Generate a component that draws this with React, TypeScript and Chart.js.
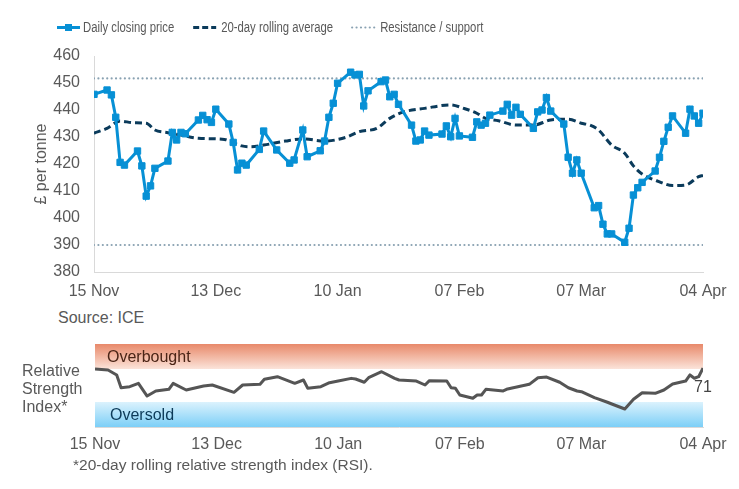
import React, { useEffect, useRef } from 'react';
import { Chart, registerables } from 'chart.js';

Chart.register(...registerables);

// ---------- DATA ----------
const xTickLabels = ['15 Nov', '13 Dec', '10 Jan', '07 Feb', '07 Mar', '04 Apr'];
const tickStepDays = 28; // days between tick labels

// day offsets from 15 Nov
const priceDays = [
  0, 3, 4, 5, 6, 7, 10, 11, 12, 13, 14, 17, 18, 19, 20, 21, 24, 25, 26, 27, 28,
  31, 32, 33, 34, 35, 38, 39, 42, 45, 46, 48, 49, 52, 53, 54, 55, 56, 59, 60, 61,
  62, 63, 66, 67, 68, 69, 70, 73, 74, 75, 76, 77, 80, 81, 82, 83, 84, 87, 88, 89,
  90, 91, 94, 95, 96, 97, 98, 101, 102, 103, 104, 105, 108, 109, 110, 111, 112,
  115, 116, 117, 118, 119, 122, 123, 124, 125, 126, 129, 130, 131, 132, 133, 136,
  137, 138, 139, 140,
];
const priceValues = [
  445.8, 447.4, 445.6, 437.3, 420.6, 419.6, 424.8, 419.3, 408.1, 411.9, 418.4,
  421.1, 431.7, 428.9, 431.7, 431.2, 436.3, 438.0, 436.4, 435.4, 440.3, 434.8,
  428.0, 417.8, 420.3, 419.6, 425.4, 432.2, 425.2, 420.3, 421.5, 432.6, 422.7,
  424.9, 428.5, 437.3, 442.5, 449.9, 454.0, 453.0, 453.2, 441.5, 447.1, 450.5,
  451.1, 444.9, 445.8, 442.1, 434.4, 428.5, 428.9, 432.2, 430.7, 431.1, 434.1,
  430.1, 436.9, 430.4, 429.9, 435.6, 434.4, 435.1, 438.1, 439.6, 442.1, 438.1,
  441.0, 438.4, 433.2, 439.3, 440.0, 444.6, 439.6, 434.8, 422.5, 416.6, 421.5,
  416.6, 403.8, 404.6, 397.7, 394.1, 394.1, 391.0, 396.2, 408.5, 411.2, 413.2,
  417.4, 422.5, 428.4, 433.6, 437.8, 431.4, 440.3, 437.8, 435.1, 438.8,
];

const maDays = [
  0, 3, 6, 9, 12, 14, 17, 20, 24, 30, 32, 34, 36, 39, 44, 48, 53, 58, 61, 65, 68,
  71, 76, 82, 85, 88, 90, 93, 97, 101, 105, 109, 112, 114, 116, 119, 122, 124,
  126, 130, 133, 136, 139, 140,
];
const maValues = [
  431.4, 433.2, 435.9, 435.3, 435.1, 432.6, 431.6, 430.7, 429.5, 429.1, 427.9,
  426.7, 426.4, 427.0, 428.5, 429.3, 428.5, 429.9, 432.0, 433.2, 436.9, 439.2,
  440.6, 441.9, 440.6, 438.8, 436.9, 436.0, 434.4, 434.4, 436.3, 436.6, 435.1,
  434.4, 432.6, 427.0, 424.0, 419.3, 416.3, 413.4, 412.0, 412.2, 415.3, 415.8,
];

const resistanceLevel = 451.7;
const supportLevel = 390;

const rsiDays = [
  0, 3, 5, 6, 8, 10, 12, 14, 17, 18, 21, 25, 27, 32, 34, 38, 39, 42, 46, 48, 49,
  52, 54, 56, 59, 60, 62, 63, 66, 69, 70, 74, 76, 77, 81, 82, 83, 84, 87, 88, 89,
  90, 94, 95, 100, 102, 104, 107, 109, 111, 112, 115, 118, 119, 122, 124, 126,
  129, 131, 133, 136, 137, 138, 139, 140,
];
const rsiValues = [
  69.9, 68.7, 62.7, 47.4, 48.6, 52.6, 37.3, 43.4, 45.4, 52.6, 44.6, 49.4, 50.6,
  41.8, 50.6, 51.4, 57.5, 60.6, 52.6, 56.6, 46.6, 48.6, 53.4, 55.4, 58.6, 57.8,
  53.9, 59.4, 66.6, 58.6, 56.6, 55.4, 50.6, 55.8, 55.4, 47.3, 46.6, 38.6, 34.6,
  38.6, 38.6, 45.4, 43.4, 45.8, 51.4, 59.4, 60.2, 53.9, 47.3, 43.4, 42.5, 35.3,
  29.8, 27.7, 21.7, 33.4, 41.3, 40.6, 44.6, 51.8, 55.4, 62.7, 58.7, 60.6, 71,
];
const overboughtRange = [70, 100];
const oversoldRange = [0, 30];

const legendLabels = ['Daily closing price', '20-day rolling average', 'Resistance / support'];

// ---------- STYLE ----------
const FONT = '"Liberation Sans", Arial, sans-serif';
const TEXT = '#595959';
const AXIS = '#d9d9d9';
const BLUE = '#0790d5';
const NAVY = '#0b3b5b';
const DOT = '#8aa2b2';
const RSI_LINE = '#555555';

const lastDay = (xTickLabels.length - 1) * tickStepDays;
const toPts = (xs: number[], ys: number[]) => xs.map((x, i) => ({ x, y: ys[i] }));
const tickCb = (v: any) => {
  const i = Math.round(Number(v) / tickStepDays);
  return Math.abs(Number(v) - i * tickStepDays) < 1e-6 ? xTickLabels[i] ?? '' : '';
};

const legendPlugin = {
  id: 'customLegend',
  afterDraw(chart: any) {
    const ctx = chart.ctx as CanvasRenderingContext2D;
    const y = 27.5;
    let x = 57;
    ctx.save();
    ctx.font = `15.5px ${FONT}`;
    ctx.textBaseline = 'middle';
    ctx.textAlign = 'left';
    legendLabels.forEach((label, i) => {
      const len = 23;
      ctx.save();
      ctx.beginPath();
      if (i === 0) {
        ctx.strokeStyle = BLUE;
        ctx.lineWidth = 3;
        ctx.setLineDash([]);
      } else if (i === 1) {
        ctx.strokeStyle = NAVY;
        ctx.lineWidth = 3;
        ctx.setLineDash([6, 3]);
      } else {
        ctx.strokeStyle = DOT;
        ctx.lineWidth = 2.2;
        ctx.lineCap = 'round';
        ctx.setLineDash([0.01, 4.4]);
      }
      ctx.moveTo(x, y);
      ctx.lineTo(x + len, y);
      ctx.stroke();
      if (i === 0) {
        ctx.fillStyle = BLUE;
        ctx.fillRect(x + len / 2 - 3.5, y - 3.5, 7, 7);
      }
      ctx.restore();
      x += len + (i === 0 ? 3 : 5);
      const w = ctx.measureText(label).width * 0.73;
      ctx.fillStyle = TEXT;
      ctx.fillText(label, x, y, w);
      x += w + 19;
    });
    ctx.restore();
  },
};

const rsiLabelPlugin = {
  id: 'rsiLabels',
  afterDatasetsDraw(chart: any) {
    const ctx = chart.ctx as CanvasRenderingContext2D;
    const { chartArea, scales } = chart;
    const ys = scales.y;
    ctx.save();
    ctx.font = `16px ${FONT}`;
    ctx.textBaseline = 'middle';
    ctx.textAlign = 'left';
    ctx.fillStyle = '#4a2416';
    ctx.fillText('Overbought', chartArea.left + 12, ys.getPixelForValue((overboughtRange[0] + overboughtRange[1]) / 2) + 1);
    ctx.fillStyle = '#0c3a58';
    ctx.fillText('Oversold', chartArea.left + 15, ys.getPixelForValue((oversoldRange[0] + oversoldRange[1]) / 2) + 1);
    const meta = chart.getDatasetMeta(0);
    const last = meta.data[meta.data.length - 1];
    ctx.fillStyle = '#444444';
    ctx.textAlign = 'center';
    ctx.fillText(String(Math.round(rsiValues[rsiValues.length - 1])), last.x, last.y + 20);
    ctx.restore();
  },
};

function bandGradient(chart: any, top: number, bottom: number, cTop: string, cBottom: string) {
  const { chartArea, scales } = chart;
  if (!chartArea) return cTop;
  const y0 = scales.y.getPixelForValue(top);
  const y1 = scales.y.getPixelForValue(bottom);
  const g = chart.ctx.createLinearGradient(0, y0, 0, y1);
  g.addColorStop(0, cTop);
  g.addColorStop(1, cBottom);
  return g;
}

export default function App() {
  const mainRef = useRef<HTMLCanvasElement>(null);
  const rsiRef = useRef<HTMLCanvasElement>(null);

  useEffect(() => {
    const tickFont = { size: 16, family: FONT };
    const main = new Chart(mainRef.current!, {
      type: 'line',
      data: {
        datasets: [
          {
            label: legendLabels[0],
            data: toPts(priceDays, priceValues),
            borderColor: BLUE,
            backgroundColor: BLUE,
            borderWidth: 3,
            pointStyle: 'rect',
            pointRadius: 4.5,
            pointBorderWidth: 1,
            pointBackgroundColor: BLUE,
            pointBorderColor: BLUE,
            tension: 0,
          },
          {
            label: legendLabels[1],
            data: toPts(maDays, maValues),
            borderColor: NAVY,
            borderWidth: 3,
            borderDash: [7, 4],
            pointRadius: 0,
            cubicInterpolationMode: 'monotone',
          },
          {
            label: legendLabels[2],
            data: [{ x: 0, y: resistanceLevel }, { x: lastDay, y: resistanceLevel }],
            borderColor: DOT,
            borderWidth: 2.2,
            borderCapStyle: 'round',
            borderDash: [0.01, 4.4],
            pointRadius: 0,
          },
          {
            label: legendLabels[2],
            data: [{ x: 0, y: supportLevel }, { x: lastDay, y: supportLevel }],
            borderColor: DOT,
            borderWidth: 2.2,
            borderCapStyle: 'round',
            borderDash: [0.01, 4.4],
            pointRadius: 0,
          },
        ],
      } as any,
      options: {
        animation: false,
        responsive: false,
        maintainAspectRatio: false,
        layout: { padding: { top: 56, right: 36, left: 0, bottom: 0 } },
        plugins: { legend: { display: false }, tooltip: { enabled: false } },
        scales: {
          x: {
            type: 'linear',
            min: 0,
            max: lastDay,
            grid: { display: false, drawTicks: false },
            border: { color: AXIS, width: 1 },
            ticks: { stepSize: tickStepDays, padding: 10, color: TEXT, font: tickFont, callback: tickCb, maxRotation: 0, autoSkip: false },
            afterFit: (s: any) => { s.height = 33; },
          },
          y: {
            min: 380,
            max: 460,
            grid: { display: false, drawTicks: false },
            border: { color: AXIS, width: 1 },
            ticks: { stepSize: 10, padding: 14, color: TEXT, font: tickFont },
            title: { display: true, text: '£ per tonne', color: TEXT, font: tickFont, padding: { top: 32, bottom: 0 } },
            afterFit: (s: any) => { s.width = 94; },
          },
        },
      } as any,
      plugins: [legendPlugin],
    });

    const rsi = new Chart(rsiRef.current!, {
      type: 'line',
      data: {
        datasets: [
          {
            label: 'RSI',
            data: toPts(rsiDays, rsiValues),
            borderColor: RSI_LINE,
            borderWidth: 3,
            borderJoinStyle: 'round',
            pointRadius: 0,
            tension: 0,
          },
          {
            label: 'Overbought',
            data: [{ x: 0, y: overboughtRange[1] }, { x: lastDay, y: overboughtRange[1] }],
            borderWidth: 0,
            pointRadius: 0,
            fill: { value: overboughtRange[0] },
            backgroundColor: (c: any) => bandGradient(c.chart, overboughtRange[1], overboughtRange[0], '#e8896a', '#fbe3d9'),
          },
          {
            label: 'Oversold',
            data: [{ x: 0, y: oversoldRange[1] }, { x: lastDay, y: oversoldRange[1] }],
            borderWidth: 0,
            pointRadius: 0,
            fill: { value: oversoldRange[0] },
            backgroundColor: (c: any) => bandGradient(c.chart, oversoldRange[1], oversoldRange[0], '#dbf2fd', '#7ccff7'),
          },
        ],
      } as any,
      options: {
        animation: false,
        responsive: false,
        maintainAspectRatio: false,
        layout: { padding: { top: 14, right: 36, left: 95, bottom: 0 } },
        plugins: { legend: { display: false }, tooltip: { enabled: false } },
        scales: {
          x: {
            type: 'linear',
            min: 0,
            max: lastDay,
            grid: { display: false, drawTicks: false },
            border: { color: AXIS, width: 1 },
            ticks: { stepSize: tickStepDays, padding: 8.4, color: TEXT, font: tickFont, callback: tickCb, maxRotation: 0, autoSkip: false },
            afterFit: (s: any) => { s.height = 33; },
          },
          y: { min: 0, max: 100, display: false },
        },
      } as any,
      plugins: [rsiLabelPlugin],
    });

    return () => {
      main.destroy();
      rsi.destroy();
    };
  }, []);

  const textStyle: React.CSSProperties = {
    position: 'absolute',
    fontFamily: FONT,
    fontSize: 16,
    lineHeight: '18px',
    color: TEXT,
    whiteSpace: 'nowrap',
  };

  return (
    <div style={{ position: 'relative', width: 739, height: 489, background: '#ffffff', overflow: 'hidden' }}>
      <style>{'body{margin:0}'}</style>
      <canvas ref={mainRef} width={739} height={305} style={{ position: 'absolute', left: 0, top: 0 }} />
      <div style={{ ...textStyle, left: 58, top: 309 }}>Source: ICE</div>
      <canvas ref={rsiRef} width={739} height={130} style={{ position: 'absolute', left: 0, top: 330 }} />
      <div style={{ ...textStyle, left: 22, top: 362 }}>
        Relative
        <br />
        Strength
        <br />
        Index*
      </div>
      <div style={{ ...textStyle, left: 73, top: 456, fontSize: 15.5 }}>*20-day rolling relative strength index (RSI).</div>
    </div>
  );
}
